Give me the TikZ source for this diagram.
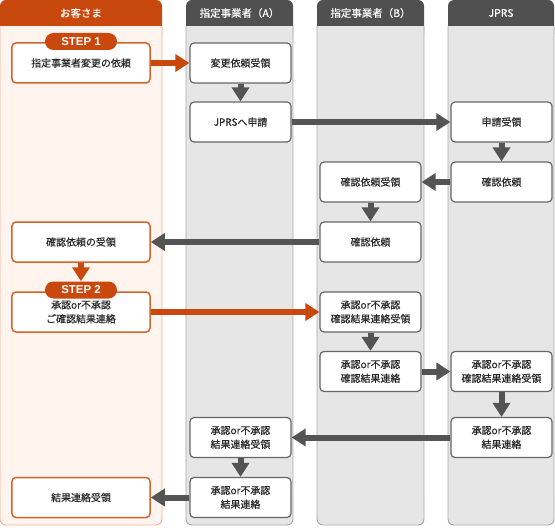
\documentclass[tikz,border=0pt]{standalone}
\usepackage{fontspec}
\setmainfont{Noto Sans CJK JP}
\newfontfamily\boxfont[FakeBold=0.35]{Noto Sans CJK JP}
\newfontfamily\hdrfont[FakeBold=0.5]{Noto Sans CJK JP}
\newfontfamily\stepfont{Liberation Sans}
\usetikzlibrary{arrows.meta}
\definecolor{org}{HTML}{C8480E}
\definecolor{orgline}{HTML}{D2642E}
\definecolor{pinkbg}{HTML}{FFF4EE}
\definecolor{pinkline}{HTML}{F4AE94}
\definecolor{hdrgray}{HTML}{505050}
\definecolor{lanegray}{HTML}{E6E6E6}
\definecolor{laneline}{HTML}{A9A9A9}
\definecolor{boxline}{HTML}{666666}
\definecolor{arrgray}{HTML}{545454}
\definecolor{txt}{HTML}{2A2A2A}
\newcommand\mylane[5]{%
  \fill[#3, rounded corners=6bp] (#1,0) rectangle (#2,40);
  \fill[#4] (#1,26) rectangle (#2,510);
  \fill[#4, rounded corners=6bp] (#1,490) rectangle (#2,525);
  \draw[#5, line width=0.9bp, rounded corners=6bp] (#1,26) -- (#1,525) -- (#2,525) -- (#2,26);
}
\tikzset{
  box/.style={draw=boxline, line width=1.2bp, fill=white, rounded corners=4bp,
    minimum width=101bp, minimum height=40bp, align=center, text=txt,
    font=\boxfont\fontsize{10}{14}\selectfont, inner sep=0pt},
  cbox/.style={box, draw=orgline, line width=1.5bp, minimum width=138bp},
  stepbadge/.style={fill=org, rounded corners=8.5bp, minimum width=72bp,
    minimum height=17bp, text=white, font=\stepfont\bfseries\fontsize{11.5}{12}\selectfont, inner sep=0pt},
  hdrtext/.style={text=white, font=\hdrfont\fontsize{10.5}{12}\selectfont, inner sep=0pt},
  oarr/.style={draw=org, line width=6bp, -{Triangle[length=14bp,width=17bp]}},
  garr/.style={draw=arrgray, line width=6bp, -{Triangle[length=14bp,width=17bp]}},
}
\begin{document}
\begin{tikzpicture}[x=1bp, y=-1bp]
\useasboundingbox (0,0) rectangle (555,528);
\mylane{0}{162}{org}{pinkbg}{pinkline}
\mylane{186}{293}{hdrgray}{lanegray}{laneline}
\mylane{317}{424}{hdrgray}{lanegray}{laneline}
\mylane{448}{554}{hdrgray}{lanegray}{laneline}
\node[hdrtext] (h1) at (81,13) {お客さま};
\node[hdrtext] (h2) at (239.5,13) {指定事業者（A）};
\node[hdrtext] (h3) at (370.5,13) {指定事業者（B）};
\node[hdrtext] (h4) at (501,13) {JPRS};
% customer boxes
\node[cbox] (c1) at (81,63) {指定事業者変更の依頼};
\node[cbox] (c4) at (81,242) {確認依頼の受領};
\node[cbox] (c5) at (81,312) {\rule{0pt}{8bp}承認or不承認\\ご確認結果連絡};
\node[cbox] (c8) at (81,497.5) {結果連絡受領};
\node[stepbadge] (s1) at (81,41.5) {STEP 1};
\node[stepbadge] (s2) at (81,290) {STEP 2};
% A
\node[box] (a1) at (240.5,63) {変更依頼受領};
\node[box] (a2) at (240.5,122) {JPRSへ申請};
\node[box] (a7) at (240.5,437.5) {承認or不承認\\結果連絡受領};
\node[box] (a8) at (240.5,497.5) {承認or不承認\\結果連絡};
% B
\node[box] (b3) at (370.5,182) {確認依頼受領};
\node[box] (b4) at (370.5,242) {確認依頼};
\node[box] (b5) at (370.5,312) {承認or不承認\\確認結果連絡受領};
\node[box] (b6) at (370.5,371.5) {承認or不承認\\確認結果連絡};
% JPRS
\node[box] (j2) at (501.5,122) {申請受領};
\node[box] (j3) at (501.5,182) {確認依頼};
\node[box] (j6) at (501.5,371.5) {承認or不承認\\確認結果連絡受領};
\node[box] (j7) at (501.5,437.5) {承認or不承認\\結果連絡};
% arrows
\draw[oarr] (c1.east) -- (a1.west);
\draw[garr] (a1.south) -- (a2.north);
\draw[garr] (a2.east) -- (j2.west);
\draw[garr] (j2.south) -- (j3.north);
\draw[garr] (j3.west) -- (b3.east);
\draw[garr] (b3.south) -- (b4.north);
\draw[garr] (b4.west) -- (c4.east);
\draw[oarr] (c4.south) -- (s2.north);
\draw[oarr] (c5.east) -- (b5.west);
\draw[garr] (b5.south) -- (b6.north);
\draw[garr] (b6.east) -- (j6.west);
\draw[garr] (j6.south) -- (j7.north);
\draw[garr] (j7.west) -- (a7.east);
\draw[garr] (a7.south) -- (a8.north);
\draw[garr] (a8.west) -- (c8.east);
\end{tikzpicture}
\end{document}
